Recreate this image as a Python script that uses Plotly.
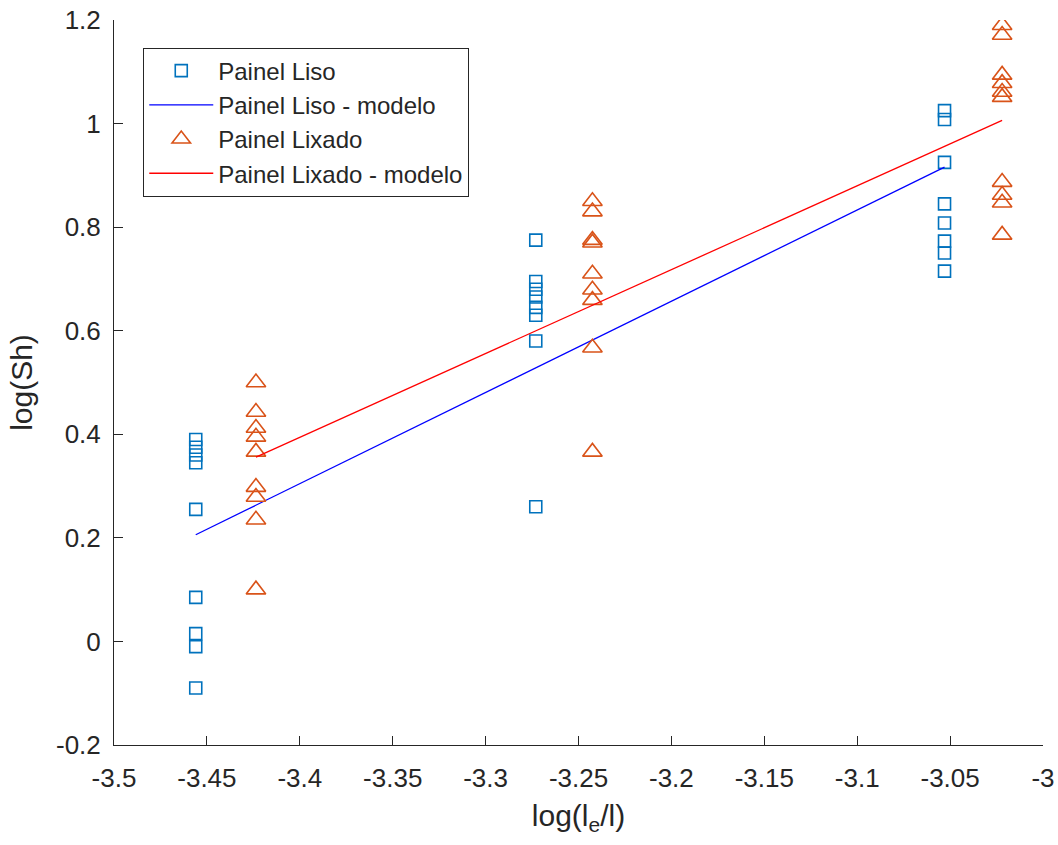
import plotly.graph_objects as go

# Painel Liso data (x positions and log(Sh) values)
liso_x = [-3.456] * 9 + [-3.273] * 8 + [-3.053] * 8
liso_y = [0.39, 0.375, 0.36, 0.345, 0.255, 0.085, 0.015, -0.01, -0.09,
          0.775, 0.695, 0.68, 0.665, 0.645, 0.63, 0.58, 0.26,
          1.025, 1.008, 0.925, 0.845, 0.808, 0.773, 0.75, 0.715]

# Painel Lixado data
lixado_x = [-3.4236] * 9 + [-3.2425] * 9 + [-3.022] * 10
lixado_y = [0.50, 0.443, 0.412, 0.395, 0.366, 0.298, 0.279, 0.235, 0.10,
            0.85, 0.83, 0.775, 0.77, 0.71, 0.679, 0.659, 0.567, 0.366,
            1.19, 1.171, 1.094, 1.078, 1.061, 1.051, 0.887, 0.862, 0.847, 0.785]

# Model lines (endpoints)
liso_model_x = [-3.456, -3.053]
liso_model_y = [0.206, 0.916]
lixado_model_x = [-3.4236, -3.022]
lixado_model_y = [0.356, 1.006]

x_ticks = [-3.5, -3.45, -3.4, -3.35, -3.3, -3.25, -3.2, -3.15, -3.1, -3.05, -3]
x_tick_labels = ["-3.5", "-3.45", "-3.4", "-3.35", "-3.3", "-3.25", "-3.2", "-3.15", "-3.1", "-3.05", "-3"]
y_ticks = [-0.2, 0, 0.2, 0.4, 0.6, 0.8, 1, 1.2]
y_tick_labels = ["-0.2", "0", "0.2", "0.4", "0.6", "0.8", "1", "1.2"]

FONT = "Liberation Sans, Arial, Helvetica, sans-serif"
TXT = "#262626"

fig = go.Figure()
fig.add_trace(go.Scatter(
    x=liso_x, y=liso_y, mode="markers", name="Painel Liso", legendgroup="a",
    marker=dict(symbol="square-open", size=12, color="#0072BD", line=dict(width=1.6, color="#0072BD")),
))
fig.add_trace(go.Scatter(
    x=liso_model_x, y=liso_model_y, mode="lines", name="Painel Liso - modelo", legendgroup="b",
    line=dict(color="#0000FF", width=1.3),
))
fig.add_trace(go.Scatter(
    x=lixado_x, y=lixado_y, mode="markers", name="Painel Lixado", legendgroup="c",
    marker=dict(symbol="triangle-up-open", size=17, color="#D95319", line=dict(width=1.6, color="#D95319")),
))
fig.add_trace(go.Scatter(
    x=lixado_model_x, y=lixado_model_y, mode="lines", name="Painel Lixado - modelo", legendgroup="d",
    line=dict(color="#FF0000", width=1.3),
))

fig.update_layout(
    width=1058, height=845,
    margin=dict(l=114, r=15, t=20, b=100),
    paper_bgcolor="white", plot_bgcolor="white",
    font=dict(family=FONT, size=26, color=TXT),
    showlegend=True,
    legend=dict(
        x=0.0315, y=0.962, xanchor="left", yanchor="top",
        bordercolor=TXT, borderwidth=1, bgcolor="white",
        font=dict(family=FONT, size=24, color=TXT),
        traceorder="grouped", tracegroupgap=0, itemwidth=64,
    ),
)
fig.update_xaxes(
    range=[-3.5, -3], tickvals=x_ticks, ticktext=x_tick_labels,
    showline=True, linecolor=TXT, linewidth=1, mirror=False,
    ticks="inside", ticklen=9, tickcolor=TXT, tickwidth=1,
    showgrid=False, zeroline=False, ticklabelstandoff=10, automargin=False,
    ticklabeloverflow="allow",
    title=dict(text="log(l<sub>e</sub>/l)", font=dict(size=30, color=TXT), standoff=12),
)
fig.update_yaxes(
    range=[-0.2, 1.2], tickvals=y_ticks, ticktext=y_tick_labels,
    showline=True, linecolor=TXT, linewidth=1, mirror=False,
    ticks="inside", ticklen=9, tickcolor=TXT, tickwidth=1,
    showgrid=False, zeroline=False, ticklabelstandoff=7, automargin=False,
    ticklabeloverflow="allow",
    title=dict(text="log(Sh)", font=dict(size=30, color=TXT), standoff=14),
)

fig.write_html("out.html", config={"displayModeBar": False},
               post_script="document.body.style.margin='0';")
